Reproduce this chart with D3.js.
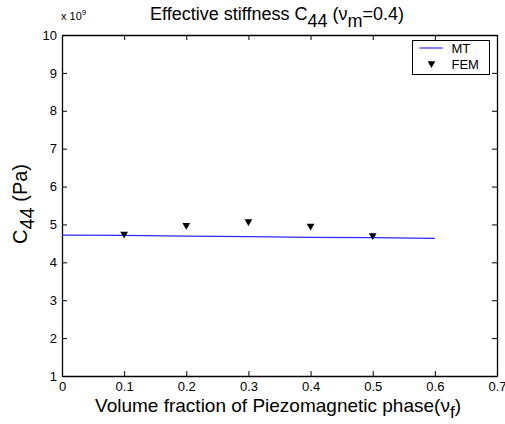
<!DOCTYPE html>
<html>
<head>
<meta charset="utf-8">
<script src="https://cdn.jsdelivr.net/npm/d3@7"></script>
<style>
  body { margin: 0; background: #fff; }
  text { font-family: "Liberation Sans", Arial, sans-serif; fill: #000; }
</style>
</head>
<body>
<script>
// MT model curve
var mtX = [0, 0.1, 0.2, 0.3, 0.4, 0.5, 0.6];
var mtY = [4.72, 4.71, 4.69, 4.68, 4.66, 4.65, 4.63];
// FEM results
var femX = [0.1, 0.2, 0.3, 0.4, 0.5];
var femY = [4.75, 4.98, 5.08, 4.96, 4.71];
var xTicks = [0, 0.1, 0.2, 0.3, 0.4, 0.5, 0.6, 0.7];
var yTicks = [1, 2, 3, 4, 5, 6, 7, 8, 9, 10];

var W = 505, H = 424;
var margin = {top: 35, right: 8, bottom: 48, left: 62};
var width = W - margin.left - margin.right,
    height = H - margin.top - margin.bottom;

var svg = d3.select("body").append("svg").attr("width", W).attr("height", H);
var g = svg.append("g").attr("transform", "translate(" + margin.left + "," + margin.top + ")");

var x = d3.scaleLinear().domain([0, 0.7]).range([0, width]);
var y = d3.scaleLinear().domain([1, 10]).range([height, 0]);

// axes (MATLAB style box, ticks inward)
function styleAxis(sel) {
    sel.selectAll("path").attr("stroke", "#000").attr("stroke-width", 1.3);
    sel.selectAll("line").attr("stroke", "#000");
    sel.selectAll("text").attr("font-size", "13px").style("font-family", "Liberation Sans, Arial, sans-serif");
}
g.append("g").attr("transform", "translate(0," + height + ")")
    .call(d3.axisBottom(x).tickValues(xTicks).tickSizeInner(-5).tickSizeOuter(0).tickPadding(6).tickFormat(d3.format("")))
    .call(styleAxis);
g.append("g")
    .call(d3.axisLeft(y).tickValues(yTicks).tickSizeInner(-5).tickSizeOuter(0).tickPadding(5))
    .call(styleAxis);
g.append("g")
    .call(d3.axisTop(x).tickValues(xTicks).tickSizeInner(-5).tickSizeOuter(0).tickFormat(""))
    .call(styleAxis);
g.append("g").attr("transform", "translate(" + width + ",0)")
    .call(d3.axisRight(y).tickValues(yTicks).tickSizeInner(-5).tickSizeOuter(0).tickFormat(""))
    .call(styleAxis);

// MT line
var line = d3.line().x(function(d) { return x(d[0]); }).y(function(d) { return y(d[1]); });
g.append("path").datum(d3.zip(mtX, mtY))
    .attr("fill", "none").attr("stroke", "#2a2aff").attr("stroke-width", 1.2).attr("d", line);

// FEM markers
var tri = d3.symbol().type(d3.symbolTriangle).size(26);
g.selectAll(".fem").data(d3.zip(femX, femY)).enter().append("path")
    .attr("class", "fem")
    .attr("d", tri)
    .attr("transform", function(d) { return "translate(" + x(d[0]) + "," + y(d[1]) + ") rotate(180)"; })
    .attr("fill", "#000");

// legend
var lg = svg.append("g").attr("transform", "translate(412.5,40.5)");
lg.append("rect").attr("width", 77).attr("height", 34).attr("fill", "#fff").attr("stroke", "#000").attr("stroke-width", 1);
lg.append("line").attr("x1", 7).attr("x2", 30).attr("y1", 7.5).attr("y2", 7.5).attr("stroke", "#2a2aff").attr("stroke-width", 1.2);
lg.append("text").attr("x", 39).attr("y", 12).attr("font-size", "13px").text("MT");
lg.append("path").attr("d", tri).attr("transform", "translate(19,23) rotate(180)").attr("fill", "#000");
lg.append("text").attr("x", 39).attr("y", 28).attr("font-size", "13px").text("FEM");

// exponent label
var ex = svg.append("text").attr("x", 61).attr("y", 20).attr("font-size", "11px");
ex.append("tspan").text("x 10");
ex.append("tspan").attr("dy", -5).attr("font-size", "8px").text("9");

// title
var t = svg.append("text").attr("x", 277).attr("y", 20).attr("text-anchor", "middle").attr("font-size", "18px");
t.append("tspan").text("Effective stiffness C");
t.append("tspan").attr("dy", 7).text("44");
t.append("tspan").attr("dy", -7).text(" (\u03bd");
t.append("tspan").attr("dy", 7).text("m");
t.append("tspan").attr("dy", -7).text("=0.4)");

// x label
var xl = svg.append("text").attr("x", 278).attr("y", 412).attr("text-anchor", "middle").attr("font-size", "19px");
xl.append("tspan").text("Volume fraction of Piezomagnetic phase(\u03bd");
xl.append("tspan").attr("dy", 6).attr("font-size", "17px").text("f");
xl.append("tspan").attr("dy", -6).text(")");

// y label
var yl = svg.append("text").attr("transform", "translate(27,204) rotate(-90)").attr("text-anchor", "middle").attr("font-size", "20px");
yl.append("tspan").text("C");
yl.append("tspan").attr("dy", 7).text("44");
yl.append("tspan").attr("dy", -7).text(" (Pa)");
</script>
</body>
</html>
